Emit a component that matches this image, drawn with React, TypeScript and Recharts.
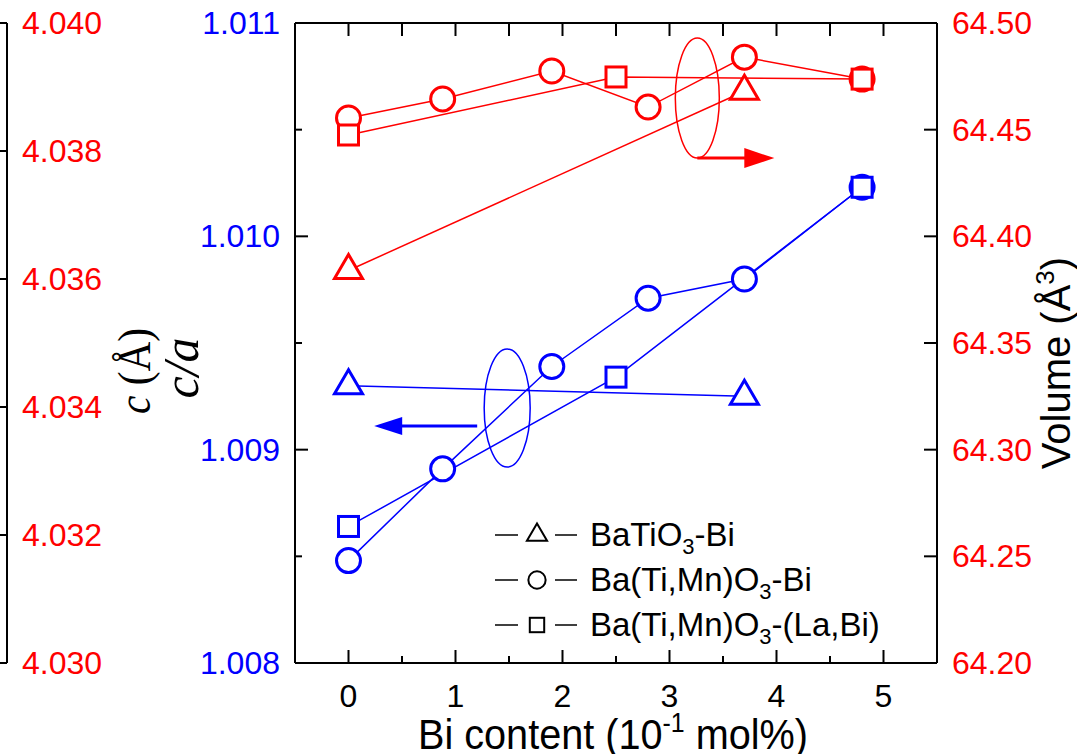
import React from "react";
import { LineChart, Line, XAxis, YAxis, Legend, ReferenceDot, Label } from "recharts";

const BLUE = "#0000ff";
const RED = "#ff0000";
const SANS = "'Liberation Sans', Arial, sans-serif";
const SERIF = "'Liberation Serif', 'Times New Roman', serif";

// c/a (left axis, blue)
const caTriX = [0, 3.7];
const caTriY = [1.0093, 1.00925];
const caCirX = [0, 0.88, 1.9, 2.8, 3.7, 4.8];
const caCirY = [1.00848, 1.00891, 1.00939, 1.00971, 1.0098, 1.01023];
const caSqX = [0, 2.5, 4.8];
const caSqY = [1.00864, 1.00934, 1.01023];

// volume (right axis, red)
const volTriX = [0, 3.7];
const volTriY = [64.384, 64.468];
const volCirX = [0, 0.88, 1.9, 2.8, 3.7, 4.8];
const volCirY = [64.4555, 64.4644, 64.4775, 64.4606, 64.484, 64.4737];
const volSqX = [0, 2.5, 4.8];
const volSqY = [64.4475, 64.4747, 64.4737];

// axes
const xTicks = [0, 0.5, 1, 1.5, 2, 2.5, 3, 3.5, 4, 4.5, 5];
const caTicks = [1.008, 1.0085, 1.009, 1.0095, 1.01, 1.0105, 1.011];
const volTicks = [64.2, 64.25, 64.3, 64.35, 64.4, 64.45, 64.5];
const cTicks = [4.03, 4.032, 4.034, 4.036, 4.038, 4.04];

const legendKinds = ["triangle", "circle", "square"];
const legendNames = ["BaTiO3-Bi", "Ba(Ti,Mn)O3-Bi", "Ba(Ti,Mn)O3-(La,Bi)"];

// ellipse annotations (centres in data units)
const redNote = { x: 3.26, y: 64.4648 };
const blueNote = { x: 1.483, y: 1.009195 };

// axis ids: the inner left axis is c/a, the outer one is c
const CA = "left1";
const C = "left2";
const VOL = "right1";

const toPoints = (xs: number[], ys: number[]) => xs.map((x, i) => ({ x, y: ys[i] }));
const isMajor = (v: number, step: number) => Math.abs(v / step - Math.round(v / step)) < 1e-6;

function Marker({ kind, cx, cy, color, s = 1, sw = 3 }: any) {
  if (kind === "circle") {
    return <circle cx={cx} cy={cy} r={12 * s} fill="#fff" stroke={color} strokeWidth={sw} />;
  }
  if (kind === "square") {
    return <rect x={cx - 10 * s} y={cy - 10 * s} width={20 * s} height={20 * s} fill="#fff" stroke={color} strokeWidth={sw} />;
  }
  const w = 28 * s;
  const h = 24 * s;
  return (
    <polygon
      points={`${cx},${cy - (2 * h) / 3} ${cx - w / 2},${cy + h / 3} ${cx + w / 2},${cy + h / 3}`}
      fill="#fff"
      stroke={color}
      strokeWidth={sw}
      strokeLinejoin="miter"
    />
  );
}

const makeDot = (kind: string, color: string) => (p: any) => {
  const { cx, cy, index } = p;
  if (cx == null || cy == null) return <g key={`${kind}-${index}`} />;
  return <Marker key={`${kind}-${color}-${index}`} kind={kind} cx={cx} cy={cy} color={color} />;
};

// tick renderers (tickSize / tickMargin are 0, so x / y sit on the axis line)
const BottomTick = ({ x, y, payload }: any) => {
  const v = payload.value;
  const major = isMajor(v, 1);
  return (
    <g>
      <line x1={x} x2={x} y1={y} y2={y - (major ? 13 : 7)} stroke="#000" strokeWidth={2} />
      {major && (
        <text x={x} y={y + 44} textAnchor="middle" fontSize={32} fontFamily={SANS} fill="#000">
          {v}
        </text>
      )}
    </g>
  );
};

const TopTick = ({ x, y }: any) => <line x1={x} x2={x} y1={y} y2={y + 13} stroke="#000" strokeWidth={2} />;

const CaTick = ({ x, y, payload }: any) => {
  const v = payload.value;
  const major = isMajor(v, 0.001);
  return (
    <g>
      <line x1={x} x2={x + (major ? 13 : 7)} y1={y} y2={y} stroke="#000" strokeWidth={2} />
      {major && (
        <text x={x - 15} y={y + 11} textAnchor="end" fontSize={32} fontFamily={SANS} fill={BLUE}>
          {v.toFixed(3)}
        </text>
      )}
    </g>
  );
};

const VolTick = ({ x, y, payload }: any) => (
  <g>
    <line x1={x} x2={x - 13} y1={y} y2={y} stroke="#000" strokeWidth={2} />
    <text x={x + 15} y={y + 11} textAnchor="start" fontSize={32} fontFamily={SANS} fill={RED}>
      {payload.value.toFixed(2)}
    </text>
  </g>
);

const CTick = ({ x, y, payload }: any) => (
  <g>
    <line x1={x} x2={x - 8} y1={y} y2={y} stroke="#000" strokeWidth={2} />
    <text x={x + 15} y={y + 11} textAnchor="start" fontSize={32} fontFamily={SANS} fill={RED}>
      {payload.value.toFixed(3)}
    </text>
  </g>
);

const LeftTitle = ({ viewBox }: any) => {
  const cy = viewBox.y + viewBox.height / 2 + 28;
  const x1 = viewBox.x + 143;
  const x2 = viewBox.x + 191;
  return (
    <g fontFamily={SERIF} fill="#000">
      <text x={x1} y={cy} transform={`rotate(-90, ${x1}, ${cy})`} textAnchor="middle" fontSize={46} textLength={86} lengthAdjust="spacingAndGlyphs">
        <tspan fontStyle="italic">c</tspan>
        <tspan> (Å)</tspan>
      </text>
      <text x={x2} y={cy - 3} transform={`rotate(-90, ${x2}, ${cy - 3})`} textAnchor="middle" fontSize={50} fontStyle="italic">
        c/a
      </text>
    </g>
  );
};

const RightTitle = ({ viewBox }: any) => {
  const cx = viewBox.x + 133;
  const cy = viewBox.y + viewBox.height / 2 + 20;
  return (
    <text x={cx} y={cy} transform={`rotate(-90, ${cx}, ${cy})`} textAnchor="middle" fontSize={40} fontFamily={SANS} fill="#000">
      Volume (Å<tspan fontSize={26} dy={-16}>3</tspan>
      <tspan dy={16}>)</tspan>
    </text>
  );
};

const BottomTitle = ({ viewBox }: any) => {
  const cx = viewBox.x + viewBox.width / 2 - 3;
  const by = viewBox.y + 86;
  return (
    <text x={cx} y={by} textAnchor="middle" fontSize={43} fontFamily={SANS} fill="#000" textLength={390} lengthAdjust="spacingAndGlyphs">
      Bi content (10<tspan fontSize={27} dy={-17}>-1</tspan>
      <tspan dy={17}> mol%)</tspan>
    </text>
  );
};

const NoteShape = (color: string, side: "right" | "left") => (p: any) => {
  const { cx, cy } = p;
  if (cx == null || cy == null) return <g />;
  if (side === "right") {
    const ay = cy + 60;
    return (
      <g>
        <ellipse cx={cx} cy={cy} rx={22} ry={60} fill="none" stroke={color} strokeWidth={1.5} />
        <line x1={cx} x2={cx + 50} y1={ay} y2={ay} stroke={color} strokeWidth={3} />
        <polygon points={`${cx + 47},${ay - 10} ${cx + 77},${ay} ${cx + 47},${ay + 10}`} fill={color} />
      </g>
    );
  }
  const ay = cy + 18;
  return (
    <g>
      <ellipse cx={cx} cy={cy} rx={23} ry={59} fill="none" stroke={color} strokeWidth={1.5} />
      <line x1={cx - 30} x2={cx - 108} y1={ay} y2={ay} stroke={color} strokeWidth={3} />
      <polygon points={`${cx - 105},${ay - 9} ${cx - 133},${ay} ${cx - 105},${ay + 9}`} fill={color} />
    </g>
  );
};

const LegendBox = () => (
  <svg width={440} height={150} style={{ display: "block", overflow: "visible" }}>
    {legendNames.map((name, i) => {
      const y = 30 + i * 45;
      const [pre, post] = name.split("O3");
      return (
        <g key={name}>
          <line x1={5} x2={28} y1={y} y2={y} stroke="#000" strokeWidth={1.5} />
          <line x1={65} x2={87} y1={y} y2={y} stroke="#000" strokeWidth={1.5} />
          <Marker kind={legendKinds[i]} cx={47} cy={y} color="#000" s={0.72} sw={2} />
          <text x={100} y={y + 11} fontSize={33} fontFamily={SANS} fill="#000">
            {pre}O<tspan fontSize={22} dy={8}>3</tspan>
            <tspan dy={-8}>{post}</tspan>
          </text>
        </g>
      );
    })}
  </svg>
);

const lineProps = { type: "linear" as const, strokeWidth: 1.5, isAnimationActive: false, activeDot: false, legendType: "none" as const };

export default function App() {
  return (
    <div style={{ position: "absolute", left: 0, top: 0, width: 1077, height: 754, background: "#fff" }}>
      <LineChart width={1077} height={754} margin={{ top: 0, right: 0, bottom: 0, left: 0 }}>
        <XAxis
          dataKey="x"
          type="number"
          domain={[-0.5, 5.5]}
          ticks={xTicks}
          height={91}
          tickSize={0}
          tickMargin={0}
          tickLine={false}
          tick={BottomTick}
          axisLine={{ stroke: "#000", strokeWidth: 2 }}
          allowDataOverflow
        >
          <Label content={BottomTitle} />
        </XAxis>
        <XAxis
          xAxisId="top"
          orientation="top"
          dataKey="x"
          type="number"
          domain={[-0.5, 5.5]}
          ticks={xTicks}
          height={23}
          tickSize={0}
          tickMargin={0}
          tickLine={false}
          tick={TopTick}
          axisLine={{ stroke: "#000", strokeWidth: 2 }}
          allowDataOverflow
        />
        <YAxis
          yAxisId={CA}
          orientation="left"
          type="number"
          domain={[1.008, 1.011]}
          ticks={caTicks}
          width={288}
          tickSize={0}
          tickMargin={0}
          tickLine={false}
          tick={CaTick}
          axisLine={{ stroke: "#000", strokeWidth: 2 }}
          allowDataOverflow
        >
          <Label content={LeftTitle} />
        </YAxis>
        <YAxis
          yAxisId={C}
          orientation="left"
          type="number"
          domain={[4.03, 4.04]}
          ticks={cTicks}
          width={7}
          tickSize={0}
          tickMargin={0}
          tickLine={false}
          tick={CTick}
          axisLine={{ stroke: "#000", strokeWidth: 2 }}
          allowDataOverflow
        />
        <YAxis
          yAxisId={VOL}
          orientation="right"
          type="number"
          domain={[64.2, 64.5]}
          ticks={volTicks}
          width={140}
          tickSize={0}
          tickMargin={0}
          tickLine={false}
          tick={VolTick}
          axisLine={{ stroke: "#000", strokeWidth: 2 }}
          allowDataOverflow
        >
          <Label content={RightTitle} />
        </YAxis>

        <ReferenceDot x={blueNote.x} y={blueNote.y} yAxisId={CA} r={0} shape={NoteShape(BLUE, "left")} />
        <ReferenceDot x={redNote.x} y={redNote.y} yAxisId={VOL} r={0} shape={NoteShape(RED, "right")} />

        <Line {...lineProps} yAxisId={CA} data={toPoints(caTriX, caTriY)} dataKey="y" name="tri-ca" stroke={BLUE} dot={makeDot("triangle", BLUE)} />
        <Line {...lineProps} yAxisId={CA} data={toPoints(caCirX, caCirY)} dataKey="y" name="cir-ca" stroke={BLUE} dot={makeDot("circle", BLUE)} />
        <Line {...lineProps} yAxisId={CA} data={toPoints(caSqX, caSqY)} dataKey="y" name="sq-ca" stroke={BLUE} dot={makeDot("square", BLUE)} />
        <Line {...lineProps} yAxisId={VOL} data={toPoints(volTriX, volTriY)} dataKey="y" name="tri-vol" stroke={RED} dot={makeDot("triangle", RED)} />
        <Line {...lineProps} yAxisId={VOL} data={toPoints(volCirX, volCirY)} dataKey="y" name="cir-vol" stroke={RED} dot={makeDot("circle", RED)} />
        <Line {...lineProps} yAxisId={VOL} data={toPoints(volSqX, volSqY)} dataKey="y" name="sq-vol" stroke={RED} dot={makeDot("square", RED)} />

        <Legend
          layout="vertical"
          align="center"
          verticalAlign="middle"
          content={LegendBox}
          wrapperStyle={{ position: "absolute", left: 490, top: 505, width: 440, height: 150 }}
        />
      </LineChart>
    </div>
  );
}
